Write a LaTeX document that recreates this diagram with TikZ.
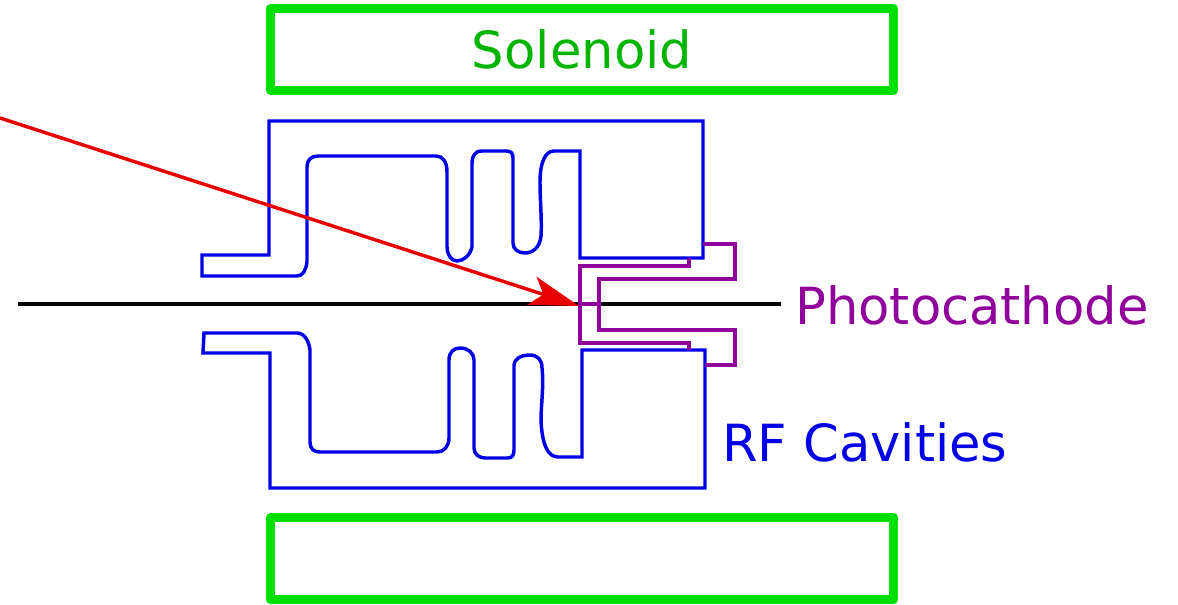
\documentclass[tikz,border=0pt]{standalone}
\usepackage{fontspec}
\setmainfont{DejaVu Sans}
\usetikzlibrary{arrows.meta}
\definecolor{coilgreen}{RGB}{0,224,0}
\definecolor{coiltext}{RGB}{0,180,0}
\definecolor{cavblue}{RGB}{0,0,230}
\definecolor{cathpurple}{RGB}{144,0,155}
\definecolor{laserred}{RGB}{230,0,0}
\tikzset{
  coil/.style={draw=coilgreen,line width=6.8pt,line join=round,fill=none,inner sep=0pt,outer sep=0pt,minimum width=467.4pt,minimum height=61.2pt},
  cavity/.style={draw=cavblue,line width=2.6pt,line join=miter},
  cathode/.style={draw=cathpurple,line width=3.5pt,line join=miter},
  axisline/.style={draw=black,line width=2.8pt},
  laser/.style={draw=laserred,line width=2.6pt,-{Stealth[length=37pt,width=22pt,inset=9pt,fill=laserred]}},
  lab/.style={inner sep=0pt,font=\fontsize{38.4}{39}\selectfont}
}
\begin{document}
\begin{tikzpicture}[x=0.75pt,y=-0.75pt]
\useasboundingbox (0,0) rectangle (1178,605);
% axis
\coordinate (axL) at (18,304);
\coordinate (axR) at (781,304);
\draw[axisline] (axL) -- (axR);
% solenoid
\node[coil] (solT) at (582,49.3) {};
\node[coil] (solB) at (582,558.6) {};
\node[lab,text=coiltext,anchor=base] (solL) at (582,69) {Solenoid};
% cavities
\draw[cavity] (202,255) -- (269,255) -- (269,121) -- (703,121) -- (703,258) -- (580,258) -- (580,151) -- (554,151)
 .. controls (545,151) and (540,163) .. (540,182)
 .. controls (540,200) and (542,220) .. (541,236)
 .. controls (540,247) and (533,253) .. (525,253)
 .. controls (518,253) and (513,249) .. (513,243)
 -- (513,158) .. controls (513,153) and (511,151) .. (506,151)
 -- (482,151) .. controls (475,151) and (472,156) .. (472,163)
 -- (472,247) .. controls (470,255) and (464,261) .. (457,261)
 .. controls (451,261) and (447,254) .. (447,247)
 -- (447,172) .. controls (447,162) and (443,156) .. (436,156)
 -- (318,156) .. controls (311,156) and (307,160) .. (307,167)
 -- (307,262) .. controls (306,270) and (303,276) .. (297,276)
 -- (202,276) -- cycle;
\draw[cavity] (204,333) -- (297,333) .. controls (305,333) and (309,342) .. (310,350)
 -- (310,442) .. controls (310,449) and (314,452) .. (320,452)
 -- (437,452) .. controls (444,452) and (449,446) .. (449,438)
 -- (449,360) .. controls (449,352) and (454,348) .. (460,348)
 .. controls (468,348) and (474,353) .. (474,360)
 -- (474,448) .. controls (474,454) and (479,458) .. (485,458)
 -- (508,458) .. controls (512,458) and (514,455) .. (514,450)
 -- (514,366) .. controls (514,358) and (522,355) .. (529,355)
 .. controls (538,355) and (542,360) .. (542,368)
 .. controls (544,385) and (541,405) .. (541,420)
 .. controls (542,445) and (548,457) .. (558,457)
 -- (582,457) -- (582,350) -- (705,350) -- (705,488) -- (270,488) -- (270,353) -- (203,353) -- cycle;
% photocathode
\draw[cathode] (703,244) -- (735,244) -- (735,279) -- (599,279) -- (599,330) -- (735,330) -- (735,365) -- (705,365);
\draw[cathode] (689,258) -- (689,266) -- (580,266) -- (580,343) -- (689,343) -- (689,350);
\draw[cathode] (580,304) -- (599,304);
% laser
\coordinate (lasA) at (0,118);
\coordinate (lasB) at (579,306);
\draw[laser] (lasA) -- (lasB);
% labels
\node[lab,text=cathpurple,anchor=base west] (phL) at (795,325) {Photocathode};
\node[lab,text=cavblue,anchor=base west] (rfL) at (722,462) {RF Cavities};
\end{tikzpicture}
\end{document}
